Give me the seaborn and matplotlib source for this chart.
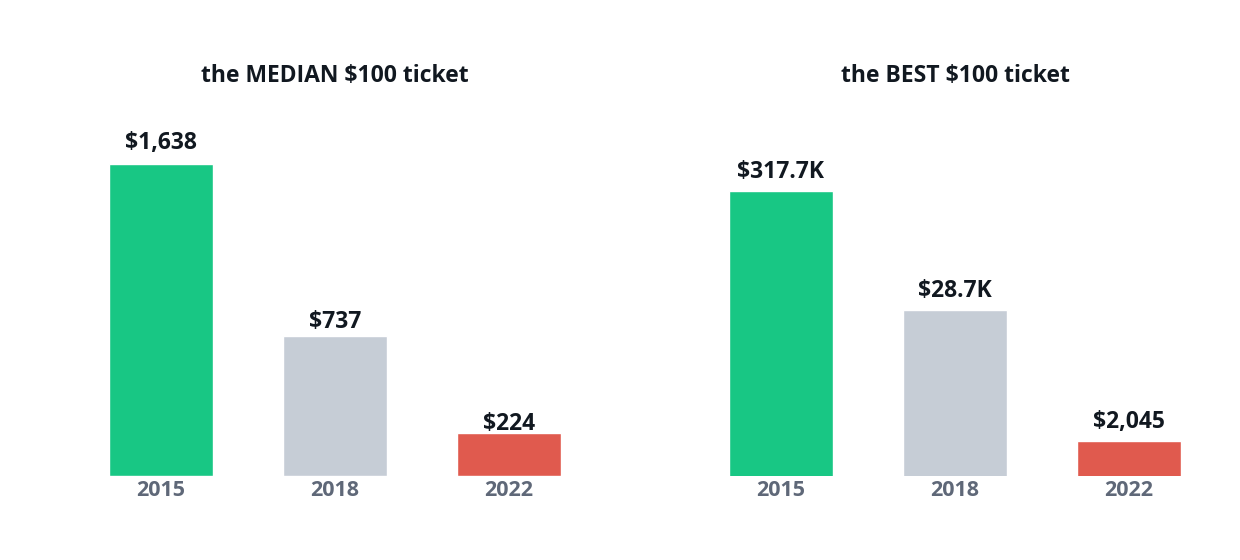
import pandas as pd
import seaborn as sns
import matplotlib.pyplot as plt

# --- Data ---
YEARS = ['2015', '2018', '2022']
MEDIAN_VALUES = [1638, 737, 224]
BEST_VALUES = [317700, 28700, 2045]
MEDIAN_LABELS = ['$1,638', '$737', '$224']
BEST_LABELS = ['$317.7K', '$28.7K', '$2,045']
COLORS = ['#18c784', '#c6cdd6', '#e05a4e']

sns.set_theme(style="white")
plt.rcParams['font.family'] = ['Open Sans', 'DejaVu Sans']

fig = plt.figure(figsize=(12.4, 5.6), dpi=100)
ax1 = fig.add_axes([74 / 1240, 84 / 560, 522 / 1240, 366 / 560])
ax2 = fig.add_axes([694 / 1240, 84 / 560, 522 / 1240, 366 / 560])

palette = dict(zip(YEARS, COLORS))


def draw(ax, values, labels, title, log=False):
    df = pd.DataFrame({'year': YEARS, 'value': values})
    sns.barplot(data=df, x='year', y='value', hue='year', palette=palette,
                width=0.6, saturation=1, legend=False, ax=ax)
    if log:
        ax.set_yscale('log')
    for i, (v, lab) in enumerate(zip(values, labels)):
        if log:
            ax.annotate(lab, (i, v), xytext=(0, 13.5), textcoords='offset points',
                        ha='center', va='center', fontsize=16.5, fontweight='bold',
                        color='#111820')
        else:
            ax.annotate(lab, (i, v * 1.045), xytext=(0, 5), textcoords='offset points',
                        ha='center', va='center', fontsize=16.5, fontweight='bold',
                        color='#111820')
    ax.set_xlim(-0.5, 2.5)
    ax.set_xlabel('')
    ax.set_ylabel('')
    ax.tick_params(axis='x', length=0, pad=3, labelsize=15.5, labelcolor='#5f6878')
    for lbl in ax.get_xticklabels():
        lbl.set_fontweight('bold')
    sns.despine(ax=ax, left=True, bottom=True)
    ax.set_title(title, fontsize=16.5, fontweight='bold', color='#111820', pad=20)


draw(ax1, MEDIAN_VALUES, MEDIAN_LABELS, 'the MEDIAN $100 ticket')
ax1.set_ylim(0, 1638 * 366 / 312)
draw(ax2, BEST_VALUES, BEST_LABELS, 'the BEST $100 ticket', log=True)
ax2.set_ylim(1000, 10 ** (3 + 366 / 114))
for ax in (ax1, ax2):
    ax.set_yticks([])
    ax.minorticks_off()

fig.savefig('out.png', dpi=100, facecolor='white')
